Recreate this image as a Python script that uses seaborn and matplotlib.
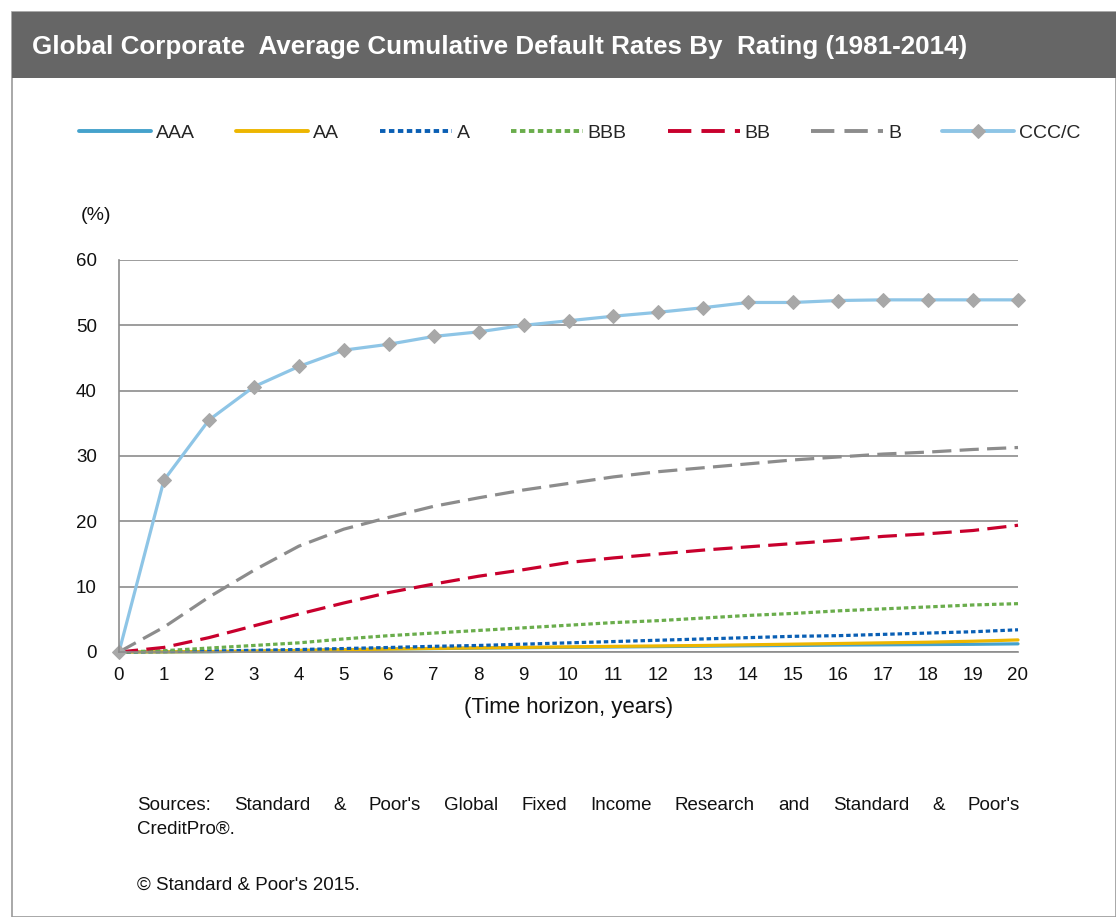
import numpy as np
import pandas as pd
import seaborn as sns
import matplotlib.pyplot as plt
from matplotlib.patches import Rectangle

years = list(range(0, 21))
aaa = [0, 0.0, 0.03, 0.13, 0.24, 0.35, 0.46, 0.52, 0.60, 0.66, 0.72, 0.77, 0.83, 0.89, 0.95, 1.00, 1.06, 1.10, 1.14, 1.18, 1.25]
aa = [0, 0.02, 0.07, 0.13, 0.23, 0.34, 0.45, 0.55, 0.63, 0.71, 0.79, 0.86, 0.93, 1.00, 1.10, 1.20, 1.30, 1.40, 1.50, 1.65, 1.85]
a = [0, 0.06, 0.15, 0.26, 0.38, 0.53, 0.69, 0.87, 1.00, 1.20, 1.40, 1.60, 1.80, 2.00, 2.20, 2.40, 2.50, 2.70, 2.90, 3.10, 3.40]
bbb = [0, 0.20, 0.60, 1.00, 1.40, 2.00, 2.50, 2.90, 3.30, 3.70, 4.10, 4.50, 4.80, 5.20, 5.60, 5.90, 6.30, 6.60, 6.90, 7.20, 7.40]
bb = [0, 0.70, 2.20, 4.00, 5.80, 7.50, 9.10, 10.40, 11.60, 12.60, 13.70, 14.40, 15.00, 15.60, 16.10, 16.60, 17.10, 17.70, 18.10, 18.60, 19.40]
b = [0, 3.80, 8.40, 12.50, 16.20, 18.80, 20.60, 22.30, 23.60, 24.80, 25.80, 26.80, 27.60, 28.20, 28.80, 29.40, 29.85, 30.30, 30.60, 31.00, 31.30]
ccc = [0, 26.3, 35.5, 40.6, 43.7, 46.2, 47.1, 48.3, 49.0, 50.0, 50.7, 51.4, 52.0, 52.7, 53.5, 53.5, 53.8, 53.9, 53.9, 53.9, 53.9]

ratings = ["AAA", "AA", "A", "BBB", "BB", "B", "CCC/C"]
values = [aaa, aa, a, bbb, bb, b, ccc]

df = pd.DataFrame({"year": years * len(ratings),
                   "rating": np.repeat(ratings, len(years)),
                   "rate": np.concatenate(values)})

sns.set_style("white")
plt.rcParams['font.family'] = ['Liberation Sans', 'DejaVu Sans']

colors = {"AAA": "#45A2CC", "AA": "#EDB600", "A": "#0A5FB4", "BBB": "#6AAD4C",
          "BB": "#C8002D", "B": "#8C8C8C", "CCC/C": "#8EC5E6"}
dashes = {"AAA": "", "AA": "", "A": (1.4, 0.9), "BBB": (1.4, 0.9),
          "BB": (6, 2.6), "B": (6, 2.6), "CCC/C": ""}

fig = plt.figure(figsize=(11.16, 9.17), dpi=100)
ax = fig.add_axes([119 / 1116, 1 - 652 / 917, (1018 - 119) / 1116, (652 - 260) / 917])

for r in ratings:
    sub = df[df["rating"] == r]
    kw = {}
    if r == "CCC/C":
        kw = dict(marker="D", markersize=7, markerfacecolor="#A8A8A8", markeredgecolor="#A8A8A8")
    sns.lineplot(data=sub, x="year", y="rate", ax=ax, color=colors[r], linewidth=2.3,
                 label=r, **kw)
    l = ax.lines[-1]
    if dashes[r]:
        l.set_dashes(dashes[r])
    l.set_clip_on(False)

ax.set_xlim(0, 20)
ax.set_ylim(0, 60)
ax.set_xticks(range(0, 21))
ax.set_yticks(range(0, 61, 10))
ax.yaxis.grid(True, color="#8C8C8C", linewidth=1.2)
ax.set_axisbelow(True)
for s in ["top", "right"]:
    ax.spines[s].set_visible(False)
for s in ["left", "bottom"]:
    ax.spines[s].set_color("#8C8C8C")
    ax.spines[s].set_linewidth(1.2)
ax.tick_params(axis="both", length=7, width=1.2, color="#8C8C8C", labelsize=13.5,
               labelcolor="#111111", direction="out")
ax.tick_params(axis="y", pad=9)
ax.set_xlabel("(Time horizon, years)", fontsize=16, color="#111111", labelpad=10)
ax.set_ylabel("")

fig.text(96 / 1116, 1 - 215 / 917, "(%)", fontsize=14, ha="center", va="center", color="#111111")

handles, labels = ax.get_legend_handles_labels()
leg = ax.legend(handles, labels, loc="center", bbox_to_anchor=(580 / 1116, 1 - 133 / 917),
                bbox_transform=fig.transFigure, ncol=7, frameon=False, fontsize=14,
                handlelength=3.7, handletextpad=0.26, columnspacing=2.1, borderpad=0)
for h in leg.legend_handles:
    h.set_linewidth(2.8)

# title bar and frame
fig.patches.append(Rectangle((12 / 1116, 0), 1 - 12 / 1116, 1 - 12 / 917,
                             transform=fig.transFigure, facecolor="none",
                             edgecolor="#9A9A9A", linewidth=1.2, zorder=0))
fig.patches.append(Rectangle((12 / 1116, 1 - 78 / 917), 1 - 12 / 1116, 66 / 917,
                             transform=fig.transFigure, facecolor="#666666",
                             edgecolor="none", zorder=1))
fig.text(32 / 1116, 1 - 47 / 917, "Global Corporate  Average Cumulative Default Rates By  Rating (1981-2014)",
         fontsize=18.7, fontweight="bold", color="white", ha="left", va="center")

# justified source line
words = "Sources: Standard & Poor's Global Fixed Income Research and Standard & Poor's".split()
fig.canvas.draw()
renderer = fig.canvas.get_renderer()
x0, x1 = 137, 1020
texts = [fig.text(0, 1 - 806 / 917, w, fontsize=13.5, ha="left", va="center", color="#111111") for w in words]
widths = [t.get_window_extent(renderer).width for t in texts]
gap = (x1 - x0 - sum(widths)) / (len(words) - 1)
x = x0
for t, w in zip(texts, widths):
    t.set_x(x / 1116)
    x += w + gap
fig.text(137 / 1116, 1 - 829 / 917, "CreditPro®.", fontsize=13.5, ha="left", va="center", color="#111111")
fig.text(137 / 1116, 1 - 885 / 917, "© Standard & Poor's 2015.", fontsize=13.5, ha="left", va="center", color="#111111")

fig.savefig("out.png", dpi=100)
